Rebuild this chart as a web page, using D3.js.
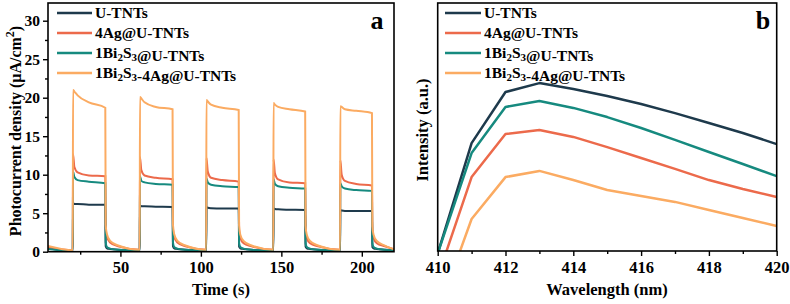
<!DOCTYPE html>
<html>
<head>
<meta charset="utf-8">
<script src="https://cdn.jsdelivr.net/npm/d3@7"></script>
<style>
  body { margin: 0; background: #fff; }
  svg { font-family: "Liberation Serif", "Times New Roman", serif; font-weight: bold; }
</style>
</head>
<body>
<svg id="chart" width="790" height="304"></svg>
<script>
// ---- panel a: photocurrent vs time ----
const seriesNames = ["U-TNTs", "4Ag@U-TNTs", "1Bi2S3@U-TNTs", "1Bi2S3-4Ag@U-TNTs"];
const seriesColors = ["#1e3a4c", "#ec6a4b", "#168a7f", "#fbab62"];

const timeOn = [20.4, 62.0, 103.3, 145.0, 186.5];
const timeOff = [40.6, 82.4, 123.5, 164.8, 206.3];
const onOffsets = [0.15, 1, 3, 10];   // s after light on (last value of a row sits at light off)
const offOffsets = [0.25, 1, 3, 8];   // s after light off (last value sits at next light on)

// values before first light-on: at t=5 and at first on
const preU = [0.45, 0.1];
const pre4Ag = [0.55, 0.2];
const preBi = [0.35, 0.1];
const preBiAg = [0.75, 0.2];

// light-on values per cycle
const lightU = [
  [6.3, 6.2, 6.2, 6.1, 6.1],
  [6.0, 5.9, 5.9, 5.85, 5.8],
  [5.8, 5.7, 5.65, 5.6, 5.6],
  [5.6, 5.55, 5.5, 5.45, 5.4],
  [5.4, 5.35, 5.3, 5.3, 5.3]
];
const light4Ag = [
  [12.7, 11.0, 10.3, 9.9, 9.8],
  [12.3, 10.6, 9.9, 9.6, 9.4],
  [12.2, 10.4, 9.6, 9.3, 9.1],
  [12.0, 10.2, 9.4, 9.0, 8.9],
  [11.9, 10.0, 9.2, 8.8, 8.6]
];
const lightBi = [
  [10.4, 9.7, 9.3, 9.1, 8.9],
  [9.8, 9.2, 9.0, 8.8, 8.7],
  [9.5, 9.0, 8.7, 8.5, 8.4],
  [9.4, 8.8, 8.5, 8.3, 8.2],
  [8.9, 8.5, 8.2, 8.0, 7.9]
];
const lightBiAg = [
  [21.0, 20.8, 20.3, 19.4, 18.7],
  [20.1, 19.9, 19.4, 18.8, 18.5],
  [19.7, 19.5, 19.1, 18.7, 18.4],
  [19.3, 19.1, 18.8, 18.5, 18.2],
  [18.9, 18.8, 18.5, 18.3, 18.0]
];

// light-off (decay) values per cycle
const darkU = [
  [0.7, 0.45, 0.35, 0.25, 0.1],
  [0.7, 0.45, 0.35, 0.25, 0.1],
  [0.65, 0.45, 0.35, 0.25, 0.1],
  [0.65, 0.45, 0.35, 0.25, 0.1],
  [0.6, 0.45, 0.35, 0.25, 0.15]
];
const dark4Ag = [
  [3.0, 1.9, 1.2, 0.7, 0.25],
  [3.0, 1.9, 1.2, 0.7, 0.25],
  [2.9, 1.8, 1.1, 0.7, 0.25],
  [2.9, 1.8, 1.1, 0.7, 0.25],
  [2.8, 1.8, 1.1, 0.7, 0.3]
];
const darkBi = [
  [1.2, 0.6, 0.4, 0.25, 0.15],
  [1.2, 0.6, 0.4, 0.25, 0.15],
  [1.1, 0.6, 0.4, 0.25, 0.15],
  [1.1, 0.6, 0.4, 0.25, 0.15],
  [1.1, 0.6, 0.4, 0.25, 0.2]
];
const darkBiAg = [
  [3.5, 2.3, 1.4, 0.8, 0.25],
  [3.5, 2.3, 1.4, 0.8, 0.25],
  [3.4, 2.2, 1.4, 0.8, 0.25],
  [3.4, 2.2, 1.4, 0.8, 0.25],
  [3.3, 2.2, 1.4, 0.8, 0.3]
];

const timeTicks = [50, 100, 150, 200];
const timeMinorTicks = [25, 75, 125, 175];
const currentTicks = [0, 5, 10, 15, 20, 25, 30];
const currentMinorTicks = [2.5, 7.5, 12.5, 17.5, 22.5, 27.5];

// ---- panel b: intensity vs wavelength ----
const wavelengths = [410, 411, 412, 413, 414, 415, 416, 417, 418, 419, 420];
const intensU = [-1, 43.5, 64.1, 67.7, 65.3, 62.5, 59.3, 55.6, 51.6, 47.6, 43.1];
const intens4Ag = [-10.5, 29.8, 47.2, 48.8, 46.0, 41.9, 37.5, 33.1, 28.6, 25.0, 21.8];
const intensBi = [-1, 39.5, 58.1, 60.5, 57.7, 54.0, 49.6, 44.8, 39.9, 35.1, 30.2];
const intensBiAg = [-25, 12.9, 29.8, 32.3, 28.6, 24.6, 22.2, 19.8, 16.5, 13.3, 10.1];
const waveTicks = [410, 412, 414, 416, 418, 420];
const waveMinorTicks = [411, 413, 415, 417, 419];

const svg = d3.select("#chart");

function buildTrace(pre, light, dark) {
  const pts = [[5, pre[0]], [timeOn[0], pre[1]]];
  timeOn.forEach((on, k) => {
    const off = timeOff[k];
    onOffsets.forEach((o, i) => pts.push([on + o, light[k][i]]));
    pts.push([off, light[k][4]]);
    offOffsets.forEach((o, i) => pts.push([off + o, dark[k][i]]));
    const next = k < timeOn.length - 1 ? timeOn[k + 1] : 220;
    pts.push([next, dark[k][4]]);
  });
  return pts;
}

const traces = [
  buildTrace(preU, lightU, darkU),
  buildTrace(pre4Ag, light4Ag, dark4Ag),
  buildTrace(preBi, lightBi, darkBi),
  buildTrace(preBiAg, lightBiAg, darkBiAg)
];
const spectra = [intensU, intens4Ag, intensBi, intensBiAg];

// legend label with subscripts
function legendText(sel, name) {
  const parts = name.split(/(Bi2S3)/);
  parts.forEach(p => {
    if (p === "Bi2S3") {
      sel.append("tspan").text("Bi");
      sel.append("tspan").attr("font-size", 11).attr("dy", 3).text("2");
      sel.append("tspan").attr("dy", -3).text("S");
      sel.append("tspan").attr("font-size", 11).attr("dy", 3).text("3");
      sel.append("tspan").attr("dy", -3).text("");
    } else if (p) {
      sel.append("tspan").text(p);
    }
  });
}

function drawLegend(g, x0, x1) {
  seriesNames.forEach((name, i) => {
    const yy = 13 + i * 20;
    g.append("line")
      .attr("x1", x0).attr("x2", x1).attr("y1", yy).attr("y2", yy)
      .attr("stroke", seriesColors[i]).attr("stroke-width", 2.5);
    const t = g.append("text").attr("x", x1 + 3).attr("y", yy + 5)
      .attr("font-size", 15.5);
    legendText(t, name);
  });
}

// ===== panel a =====
const xA = d3.scaleLinear().domain([5, 220]).range([48, 394]);
const yA = d3.scaleLinear().domain([0, 32.3]).range([251.7, 3]);

svg.append("clipPath").attr("id", "clipA")
  .append("rect").attr("x", 48).attr("y", 3).attr("width", 346).attr("height", 248.7);

const lineA = d3.line().x(d => xA(d[0])).y(d => yA(d[1])).curve(d3.curveMonotoneX);
svg.append("g").attr("clip-path", "url(#clipA)")
  .selectAll("path").data(traces).enter().append("path")
  .attr("d", lineA)
  .attr("fill", "none")
  .attr("stroke", (d, i) => seriesColors[i])
  .attr("stroke-width", 2);

svg.append("g").attr("class", "xt").attr("transform", "translate(0,251.7)")
  .call(d3.axisBottom(xA).tickValues(timeTicks).tickSize(5).tickPadding(5));
svg.append("g").attr("transform", "translate(0,251.7)")
  .call(d3.axisBottom(xA).tickValues(timeMinorTicks).tickSize(3).tickFormat(""));
svg.append("g").attr("class", "yt").attr("transform", "translate(48,0)")
  .call(d3.axisLeft(yA).tickValues(currentTicks).tickSize(5).tickPadding(3));
svg.append("g").attr("transform", "translate(48,0)")
  .call(d3.axisLeft(yA).tickValues(currentMinorTicks).tickSize(3).tickFormat(""));

svg.append("rect").attr("x", 48).attr("y", 3).attr("width", 346).attr("height", 248.7)
  .attr("fill", "none").attr("stroke", "#000").attr("stroke-width", 1.6);

drawLegend(svg.append("g"), 57, 92);

svg.append("text").attr("x", 377).attr("y", 29).attr("text-anchor", "middle")
  .attr("font-size", 26).text("a");

svg.append("text").attr("x", 221).attr("y", 295).attr("text-anchor", "middle")
  .attr("font-size", 16.5).text("Time (s)");

const yl = svg.append("text").attr("transform", "translate(21,131) rotate(-90)")
  .attr("text-anchor", "middle").attr("font-size", 16);
yl.append("tspan").text("Photocurrent density (μA/cm");
yl.append("tspan").attr("font-size", 12).attr("dy", -7).text("2");
yl.append("tspan").attr("dy", 7).text(")");

// ===== panel b =====
const xB = d3.scaleLinear().domain([410, 420]).range([437.7, 776.7]);
const yB = d3.scaleLinear().domain([0, 100]).range([251, 3]);

svg.append("clipPath").attr("id", "clipB")
  .append("rect").attr("x", 437.7).attr("y", 3).attr("width", 339).attr("height", 248);

const lineB = d3.line().x((d, i) => xB(wavelengths[i])).y(d => yB(d));
svg.append("g").attr("clip-path", "url(#clipB)")
  .selectAll("path").data(spectra).enter().append("path")
  .attr("d", lineB)
  .attr("fill", "none")
  .attr("stroke", (d, i) => seriesColors[i])
  .attr("stroke-width", 2.5)
  .attr("stroke-linejoin", "round");

svg.append("g").attr("class", "xt").attr("transform", "translate(0,251)")
  .call(d3.axisBottom(xB).tickValues(waveTicks).tickSize(5).tickPadding(5));
svg.append("g").attr("transform", "translate(0,251)")
  .call(d3.axisBottom(xB).tickValues(waveMinorTicks).tickSize(3).tickFormat(""));

svg.append("rect").attr("x", 437.7).attr("y", 3).attr("width", 339).attr("height", 248)
  .attr("fill", "none").attr("stroke", "#000").attr("stroke-width", 1.6);

drawLegend(svg.append("g"), 445, 481);

svg.append("text").attr("x", 763).attr("y", 29).attr("text-anchor", "middle")
  .attr("font-size", 26).text("b");

svg.append("text").attr("x", 607).attr("y", 295).attr("text-anchor", "middle")
  .attr("font-size", 16.5).text("Wavelength (nm)");

svg.append("text").attr("transform", "translate(428,130) rotate(-90)")
  .attr("text-anchor", "middle").attr("font-size", 16.5).text("Intensity (a.u.)");

// axis styling
svg.selectAll(".domain").remove();
svg.selectAll(".tick line").attr("stroke", "#000").attr("stroke-width", 1.4);
svg.selectAll(".tick text")
  .attr("font-family", "Liberation Serif, Times New Roman, serif")
  .attr("font-weight", "bold")
  .attr("fill", "#000");
svg.selectAll(".xt .tick text").attr("font-size", 16.5);
svg.selectAll(".yt .tick text").attr("font-size", 15.5);
</script>
</body>
</html>
